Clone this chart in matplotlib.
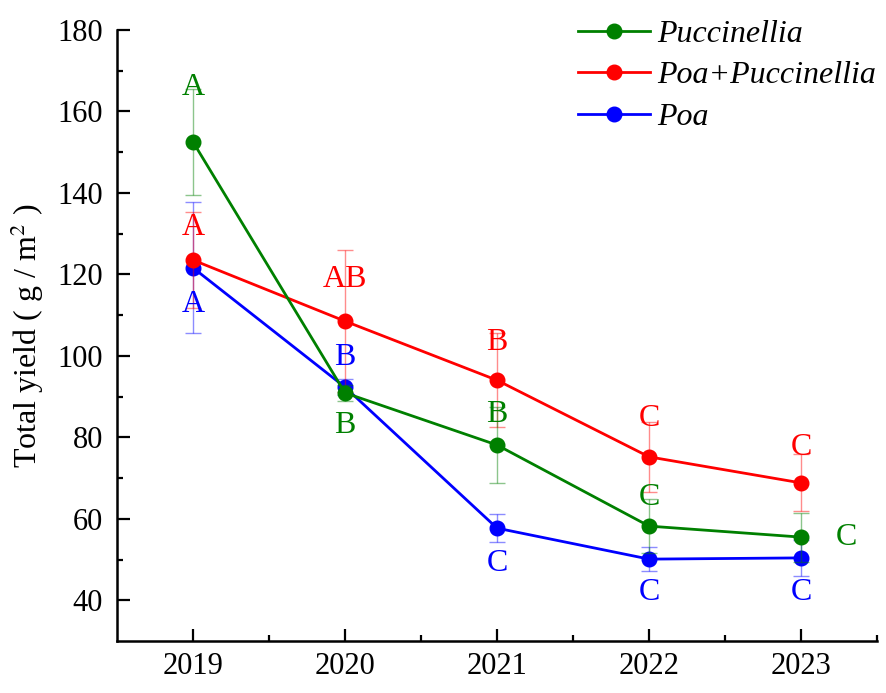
import matplotlib
matplotlib.use("Agg")
import matplotlib.pyplot as plt

years = [2019, 2020, 2021, 2022, 2023]

# yield means (g/m2) and error bars
puccinellia = [152.5, 90.9, 78.1, 58.2, 55.5]
puccinellia_err = [13.0, 2.0, 9.3, 6.6, 6.0]
puccinellia_lab = ["A", "B", "B", "C", "C"]
puccinellia_lab_y = [165.8, 83.0, 85.5, 65.3, 55.3]

mix = [123.5, 108.5, 94.0, 75.2, 68.8]
mix_err = [11.8, 17.5, 11.5, 8.6, 7.0]
mix_lab = ["A", "AB", "B", "C", "C"]
mix_lab_y = [131.4, 118.6, 103.2, 84.7, 77.6]

poa = [121.6, 92.3, 57.7, 50.1, 50.4]
poa_err = [16.1, 2.0, 3.5, 3.0, 4.5]
poa_lab = ["A", "B", "C", "C", "C"]
poa_lab_y = [112.5, 99.7, 49.1, 42.0, 42.0]

plt.rcParams['font.family'] = ['Liberation Serif', 'DejaVu Serif']
plt.rcParams['mathtext.fontset'] = 'stix'

fig = plt.figure(figsize=(8.86, 6.93), dpi=100)
ax = fig.add_axes([0.132, 0.075, 0.858, 0.882])

series = [
    ("Poa", poa, poa_err, poa_lab, poa_lab_y, "#0000ff", 3),
    ("Poa+Puccinellia", mix, mix_err, mix_lab, mix_lab_y, "#ff0000", 4),
    ("Puccinellia", puccinellia, puccinellia_err, puccinellia_lab, puccinellia_lab_y, "#008000", 5),
]

handles = {}
for name, vals, errs, labs, laby, col, z in series:
    ax.errorbar(years, vals, yerr=errs, fmt='none', ecolor=col, alpha=0.45,
                elinewidth=1, capsize=6, capthick=1, zorder=z - 1)
    ln, = ax.plot(years, vals, '-o', color=col, lw=2, markersize=10.5, zorder=z,
                  label=name)
    handles[name] = ln
    for yr, t, ly in zip(years, labs, laby):
        xoff = 0.3 if (name == "Puccinellia" and yr == 2023) else 0
        ax.text(yr + xoff, ly, t, color=col, fontsize=23, ha='center', va='center',
                zorder=z + 1)

ax.set_xlim(2018.5, 2023.5)
ax.set_ylim(30, 180)
ax.set_xticks(years)
ax.set_xticks([2019.5, 2020.5, 2021.5, 2022.5, 2023.5], minor=True)
ax.set_yticks([40, 60, 80, 100, 120, 140, 160, 180])
ax.set_yticks([50, 70, 90, 110, 130, 150, 170], minor=True)
ax.tick_params(which='both', direction='in', width=1.6, labelsize=22)
ax.tick_params(which='major', length=9)
ax.tick_params(which='minor', length=4.5)
ax.tick_params(axis='x', pad=8)
ax.tick_params(axis='y', pad=10)
for s in ['top', 'right']:
    ax.spines[s].set_visible(False)
for s in ['left', 'bottom']:
    ax.spines[s].set_linewidth(1.8)

ax.set_ylabel("Total yield ( g / m$^2$ )", fontsize=23, labelpad=8)

order = ["Puccinellia", "Poa+Puccinellia", "Poa"]
leg = ax.legend([handles[k] for k in order], order, loc='upper left',
                bbox_to_anchor=(0.607, 1.017), frameon=False, borderpad=0,
                borderaxespad=0, handlelength=2.25, handletextpad=0.22,
                labelspacing=0.38, prop={'style': 'italic', 'size': 23})

fig.savefig("out.png", dpi=100)
